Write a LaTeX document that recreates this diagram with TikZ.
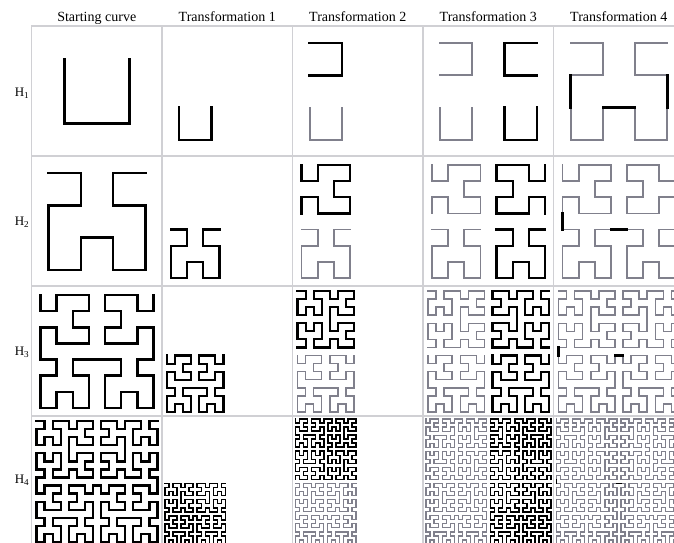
\documentclass[tikz,border=0pt]{standalone}
\usepackage{fontspec}
\setmainfont{Liberation Serif}
\definecolor{cellgray}{RGB}{208,208,212}
\definecolor{oldgray}{RGB}{128,128,140}
\newcount\hildir
\newcount\hilhand
\def\hilnorm{\ifnum\hildir<0 \global\advance\hildir by 4 \fi\ifnum\hildir>3 \global\advance\hildir by -4 \fi}
\def\hilP{\global\advance\hildir by -\hilhand\relax\hilnorm}
\def\hilM{\global\advance\hildir by \hilhand\relax\hilnorm}
\def\hilF{\ifcase\hildir\xdef\hpath{\hpath--++(1,0)}\or\xdef\hpath{\hpath--++(0,1)}\or\xdef\hpath{\hpath--++(-1,0)}\or\xdef\hpath{\hpath--++(0,-1)}\fi}
\def\hilL#1{\ifnum\numexpr#1\relax>0 \hilP\hilR{#1-1}\hilF\hilM\hilL{#1-1}\hilF\hilL{#1-1}\hilM\hilF\hilR{#1-1}\hilP\fi}
\def\hilR#1{\ifnum\numexpr#1\relax>0 \hilM\hilL{#1-1}\hilF\hilP\hilR{#1-1}\hilF\hilR{#1-1}\hilP\hilF\hilL{#1-1}\hilM\fi}
% order, i0, j0, start direction, handedness
\def\hilbuild#1#2#3#4#5{\global\hildir=#4\relax\global\hilhand=#5\relax\xdef\hpath{(#2,#3)}\hilL{#1}}
\def\hildraw#1{\edef\hilcmd{\noexpand\draw[#1]\hpath;}\hilcmd}
\newcommand\incell[4]{%
  \pgfmathsetmacro\hcx{31.5+130.5*#1+1}%
  \pgfmathsetmacro\hcy{26+130*#2+1}%
  \pgfmathsetmacro\hcs{129/#3}%
  \begin{scope}[shift={(\hcx+\hcs/2,-\hcy-129+\hcs/2)},x=\hcs pt,y=\hcs pt]
    #4
  \end{scope}}
\newcommand\hilrow[4]{%
  \pgfmathtruncatemacro\hn{#1}%
  \pgfmathtruncatemacro\hr{#1-1}%
  \pgfmathtruncatemacro\hN{2^#1}%
  \pgfmathtruncatemacro\hNN{2*\hN}%
  \pgfmathtruncatemacro\hNa{\hN-1}%
  \pgfmathtruncatemacro\hNNa{\hNN-1}%
  \def\wS{#2}\def\wB{#3}\def\wG{#4}%
  % starting curve
  \incell{0}{\hr}{\hN}{\hilbuild{\hn}{0}{\hNa}{0}{1}\hildraw{blk=\wS}}
  % transformation 1
  \incell{1}{\hr}{\hNN}{\hilbuild{\hn}{0}{\hNa}{0}{1}\hildraw{blk=\wB}}
  % transformation 2
  \incell{2}{\hr}{\hNN}{\hilbuild{\hn}{0}{\hNa}{0}{1}\hildraw{old=\wG}%
    \hilbuild{\hn}{0}{\hNNa}{3}{-1}\hildraw{blk=\wB}}
  % transformation 3
  \incell{3}{\hr}{\hNN}{\hilbuild{\hn}{0}{\hNa}{0}{1}\hildraw{old=\wG}%
    \hilbuild{\hn}{0}{\hNNa}{3}{-1}\hildraw{old=\wG}%
    \hilbuild{\hn}{\hN}{\hNa}{0}{1}\hildraw{blk=\wB}%
    \hilbuild{\hn}{\hNNa}{\hNNa}{3}{1}\hildraw{blk=\wB}}
  % transformation 4
  \incell{4}{\hr}{\hNN}{\hilbuild{\hn}{0}{\hNa}{0}{1}\hildraw{old=\wG}%
    \hilbuild{\hn}{0}{\hNNa}{3}{-1}\hildraw{old=\wG}%
    \hilbuild{\hn}{\hN}{\hNa}{0}{1}\hildraw{old=\wG}%
    \hilbuild{\hn}{\hNNa}{\hNNa}{3}{1}\hildraw{old=\wG}%
    \coordinate (a\hn) at (0,\hN);\coordinate (b\hn) at (0,\hNa);
    \coordinate (c\hn) at (\hNa,\hNa);\coordinate (d\hn) at (\hN,\hNa);
    \coordinate (e\hn) at (\hNNa,\hNa);\coordinate (f\hn) at (\hNNa,\hN);
    \draw[blk=\wB] (a\hn) -- (b\hn) (c\hn) -- (d\hn) (e\hn) -- (f\hn);}
}
\tikzset{
  blk/.style={black,line width=#1pt,line cap=rect,line join=miter},
  old/.style={oldgray,line width=#1pt,line cap=rect,line join=miter},
  cellbox/.style={cellgray,line width=1.8pt},
  head/.style={anchor=base,font=\fontsize{14}{16}\selectfont},
  rowlab/.style={font=\fontsize{13}{15}\selectfont}
}
\begin{document}
\begin{tikzpicture}[x=1pt,y=1pt]
\useasboundingbox (0,0) rectangle (674,-542);
\begin{scope}
\clip (0,0) rectangle (674,-542);
\foreach \c in {0,...,4}{\foreach \r in {0,...,3}{
  \draw[cellbox] (31.5+130.5*\c,-26-130*\r) rectangle ++(130.5,-130);}}
\node[head] (t0) at (96.75,-21) {Starting curve};
\node[head] (t1) at (227.25,-21) {Transformation 1};
\node[head] (t2) at (357.75,-21) {Transformation 2};
\node[head] (t3) at (488.25,-21) {Transformation 3};
\node[head] (t4) at (618.75,-21) {Transformation 4};
\node[rowlab] (l1) at (22,-93) {H\textsubscript{1}};
\node[rowlab] (l2) at (22,-222) {H\textsubscript{2}};
\node[rowlab] (l3) at (22,-352) {H\textsubscript{3}};
\node[rowlab] (l4) at (22,-480) {H\textsubscript{4}};
\hilrow{1}{2.6}{2.6}{1.8}
\hilrow{2}{2.6}{2.3}{1.7}
\hilrow{3}{2.4}{2.1}{1.5}
\hilrow{4}{2.3}{1.6}{1.2}
\end{scope}
\end{tikzpicture}
\end{document}
